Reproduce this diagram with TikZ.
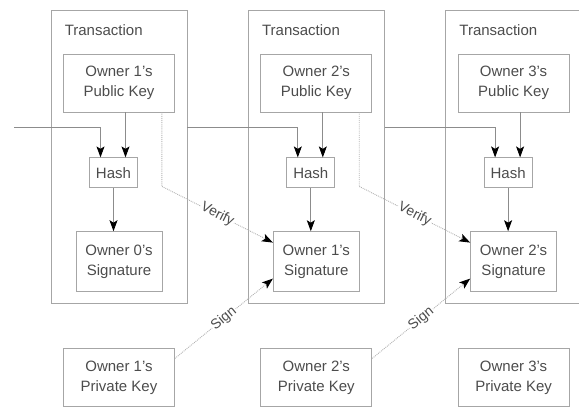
\documentclass[tikz,border=0pt]{standalone}
\usepackage{fontspec}
\setmainfont{Liberation Sans}
\usetikzlibrary{positioning, arrows.meta}

\begin{document}
\begin{tikzpicture}[
    x=1pt, y=-1pt,
    >={Stealth[length=11pt, width=8pt, inset=2.5pt, color=black]},
    font=\fontsize{15}{20}\selectfont,
    every node/.style={text=black!70},
    txbox/.style={draw=black!35, line width=0.8pt, minimum width=136pt, minimum height=293pt, inner sep=0pt},
    keybox/.style={draw=black!35, line width=0.8pt, align=center, minimum width=111pt, minimum height=58pt, inner sep=0pt},
    hashbox/.style={draw=black!35, line width=0.8pt, minimum width=48pt, minimum height=30pt, inner sep=0pt},
    sigbox/.style={draw=black!35, line width=0.8pt, align=center, minimum width=86pt, minimum height=60pt, inner sep=0pt},
    flow/.style={->, draw=black!45, line width=0.8pt},
    check/.style={->, draw=black!30, line width=0.9pt, densely dotted},
    steplabel/.style={sloped, fill=white, inner sep=1pt, font=\fontsize{14}{16}\selectfont}
]
\useasboundingbox (0,0) rectangle (579,407);

% Define nodes
\node[txbox] (T1) at (119,156.5) {};
\node[txbox] (T2) [right=60.5pt of T1] {};
\node[txbox] (T3) [right=60.5pt of T2] {};

\node (L1) [below right=15pt and 14pt of T1.north west, inner sep=0pt] {Transaction};
\node (L2) [below right=15pt and 14pt of T2.north west, inner sep=0pt] {Transaction};
\node (L3) [below right=15pt and 14pt of T3.north west, inner sep=0pt] {Transaction};

\node[keybox] (P1) [below=44pt of T1.north] {Owner 1's\\Public Key};
\node[keybox] (P2) [below=44pt of T2.north] {Owner 2's\\Public Key};
\node[keybox] (P3) [below=44pt of T3.north] {Owner 3's\\Public Key};

\node[hashbox] (H1) [below=45pt of P1, xshift=-5.5pt] {Hash};
\node[hashbox] (H2) [below=45pt of P2, xshift=-5.5pt] {Hash};
\node[hashbox] (H3) [below=45pt of P3, xshift=-5.5pt] {Hash};

\node[sigbox] (S0) [below=43pt of H1, xshift=5.5pt] {Owner 0's\\Signature};
\node[sigbox] (S1) [below=43pt of H2, xshift=5.5pt] {Owner 1's\\Signature};
\node[sigbox] (S2) [below=43pt of H3, xshift=5.5pt] {Owner 2's\\Signature};

\node[keybox] (K1) [below=45pt of T1] {Owner 1's\\Private Key};
\node[keybox] (K2) [below=45pt of T2] {Owner 2's\\Private Key};
\node[keybox] (K3) [below=45pt of T3] {Owner 3's\\Private Key};

% Chain from previous transaction
\coordinate (in) at (14,127);
\draw[flow] (in) -| ([xshift=-13pt]H1.north);
\draw[flow] (T1.east |- in) -| ([xshift=-13pt]H2.north);
\draw[flow] (T2.east |- in) -| ([xshift=-13pt]H3.north);

% Public key into hash
\draw[flow] ([xshift=12pt]H1.north |- P1.south) -- ([xshift=12pt]H1.north);
\draw[flow] ([xshift=12pt]H2.north |- P2.south) -- ([xshift=12pt]H2.north);
\draw[flow] ([xshift=12pt]H3.north |- P3.south) -- ([xshift=12pt]H3.north);

% Hash to signature
\draw[flow] (H1.south) -- (H1.south |- S0.north);
\draw[flow] (H2.south) -- (H2.south |- S1.north);
\draw[flow] (H3.south) -- (H3.south |- S2.north);

% Verify
\draw[check] ([xshift=-13pt]P1.south east) -- ++(0,74) -- node[steplabel] {Verify} ([yshift=19pt]S1.west);
\draw[check] ([xshift=-13pt]P2.south east) -- ++(0,74) -- node[steplabel] {Verify} ([yshift=19pt]S2.west);

% Sign
\draw[check] ([yshift=-10pt]K1.north east) -- node[steplabel] {Sign} ([yshift=-17pt]S1.west);
\draw[check] ([yshift=-10pt]K2.north east) -- node[steplabel] {Sign} ([yshift=-17pt]S2.west);

\end{tikzpicture}
\end{document}
